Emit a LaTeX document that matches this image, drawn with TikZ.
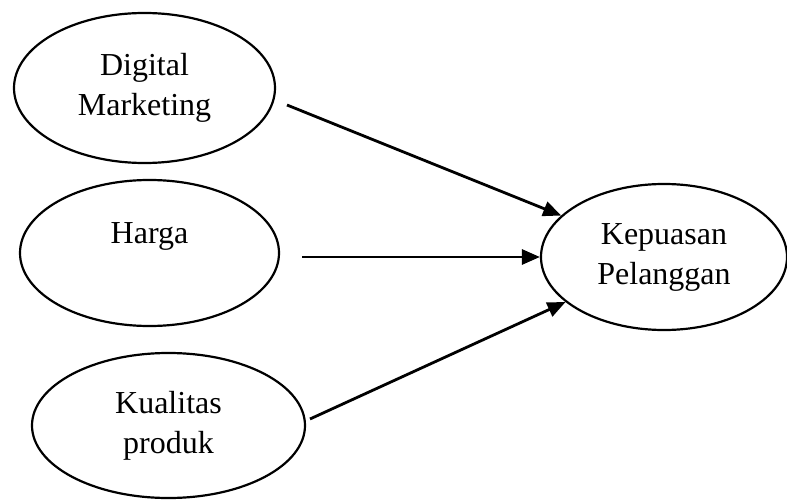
\documentclass[tikz,border=0pt]{standalone}
\usepackage{fontspec}
\setmainfont{Liberation Serif}
\usepackage{tikz}
\usetikzlibrary{shapes.geometric}
\usetikzlibrary{arrows.meta}
\tikzset{
	variabel/.style={ % ellipse for each variable
			draw,
			ellipse,
			line width=2.2pt,
			inner sep=0pt,
			align=center,
			font=\fontsize{32}{40}\selectfont
		},
	panah/.style={ % arrows into the dependent variable
			draw,
			line width=2.8pt,
			-{Triangle[length=18pt,width=15pt]}
		}
}

\begin{document}
\begin{tikzpicture}[x=1pt, y=-1pt]
			\useasboundingbox (0,0) rectangle (787,500);
			% Nodes
			\node (dm) [variabel, minimum width=261pt, minimum height=150pt] at (144.5,88) {Digital\\Marketing};
			\node (hg) [variabel, minimum width=259pt, minimum height=146pt] at (149.5,253) {Harga\\\mbox{}};
			\node (kq) [variabel, minimum width=273pt, minimum height=145pt] at (168.5,425.5) {Kualitas\\produk};
			\node (kp) [variabel, minimum width=246pt, minimum height=146pt] at (664,257) {Kepuasan\\Pelanggan};

			\coordinate (dmout) at (287,105);
			\coordinate (hgout) at (302,257);
			\coordinate (kqout) at (310,419);

			% Arrows
			\path (dmout) edge[panah] (kp);
			\path (hgout) edge[panah] (kp.west);
			\path (kqout) edge[panah] (kp);

		\end{tikzpicture}
\end{document}
